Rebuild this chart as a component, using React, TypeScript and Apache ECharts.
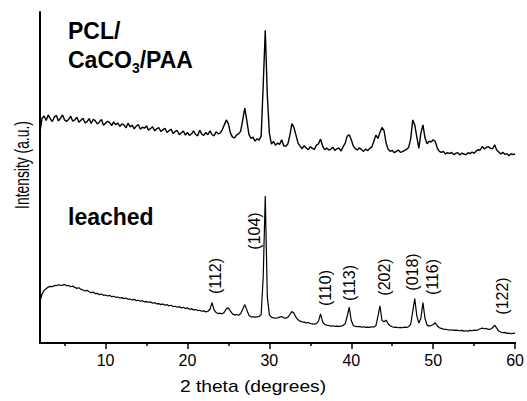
import React, { useEffect, useRef } from "react";
import * as echarts from "echarts";

const X_START = 2;
const X_STEP = 0.25;

// lower trace: "leached" (arbitrary intensity units)
const leached: number[] = [
  12.6, 14.8, 15.9, 16.4, 16.9, 17.1, 17.0, 17.4, 17.3, 17.6, 17.4, 17.5, 17.7, 17.3, 17.4, 17.0, 17.2, 16.8, 16.5, 16.7,
  16.2, 16.0, 15.7, 15.9, 15.5, 15.2, 15.4, 14.9, 15.0, 14.6, 14.8, 14.4, 14.5, 14.2, 14.4, 14.0, 14.1, 13.8, 13.9, 13.6,
  13.7, 13.4, 13.6, 13.2, 13.3, 13.0, 13.2, 12.8, 12.9, 12.6, 12.8, 12.4, 12.5, 12.3, 12.4, 12.0, 12.2, 11.8, 11.9, 11.6,
  11.8, 11.4, 11.6, 11.2, 11.4, 11.0, 11.1, 10.8, 11.0, 10.6, 10.8, 10.4, 10.6, 10.2, 10.3, 10.0, 10.1, 9.8, 9.9, 9.6,
  9.7, 9.4, 9.6, 10.2, 12.2, 10.0, 9.2, 8.9, 9.0, 8.8, 9.3, 10.3, 10.6, 9.6, 8.8, 8.5, 8.6, 8.4, 8.9, 10.2,
  11.6, 10.0, 8.4, 7.9, 7.9, 7.8, 7.9, 8.0, 8.6, 20.0, 44.4, 14.0, 8.5, 7.8, 7.6, 7.5, 7.6, 7.8, 8.0, 7.6,
  7.5, 7.8, 8.6, 9.5, 9.0, 7.8, 7.0, 6.6, 6.4, 6.3, 6.1, 6.2, 5.9, 5.8, 5.7, 5.9, 6.6, 8.8, 6.4, 5.6,
  5.4, 5.3, 5.1, 5.2, 5.0, 5.1, 5.0, 5.1, 5.3, 5.8, 8.0, 10.8, 6.8, 5.3, 5.0, 4.9, 5.0, 4.8, 4.9, 4.7,
  4.8, 4.7, 4.9, 4.8, 5.2, 8.0, 11.2, 6.8, 6.4, 6.9, 5.8, 5.2, 4.9, 4.7, 4.8, 4.6, 4.7, 4.6, 4.8, 4.7,
  4.9, 5.6, 9.5, 13.4, 8.2, 6.0, 7.5, 12.2, 7.4, 5.4, 5.1, 5.3, 5.6, 6.1, 5.2, 4.6, 4.4, 4.2, 4.1, 4.0,
  3.9, 4.0, 3.8, 3.9, 3.8, 3.7, 3.8, 3.6, 3.7, 3.6, 3.8, 3.7, 3.9, 3.8, 4.0, 4.3, 4.5, 4.3, 4.4, 4.1,
  4.2, 4.6, 5.4, 4.5, 3.6, 3.3, 3.1, 3.2, 2.9, 3.0, 2.8, 2.9, 3.0,
];

// upper trace: "PCL/CaCO3/PAA" (offset, arbitrary intensity units)
const composite: number[] = [
  63.8, 67.9, 68.6, 67.2, 68.9, 67.8, 66.9, 68.3, 68.7, 67.1, 67.9, 68.9, 67.4, 66.9, 67.6, 68.5, 67.0, 67.4, 68.2, 66.7,
  67.3, 67.9, 66.5, 66.9, 67.8, 66.3, 67.6, 67.1, 66.2, 66.8, 67.5, 65.8, 66.4, 67.0, 66.6, 65.7, 66.8, 65.9, 66.5, 65.4,
  66.2, 65.9, 65.0, 66.4, 65.3, 65.8, 64.7, 65.5, 66.0, 64.6, 65.2, 64.9, 65.6, 64.3, 64.8, 65.3, 64.1, 64.7, 65.1, 63.9,
  64.4, 64.9, 63.6, 64.1, 64.6, 63.3, 63.9, 64.2, 62.9, 63.5, 64.0, 62.8, 63.6, 62.7, 63.2, 64.1, 63.0, 62.6, 64.3, 63.1,
  62.7, 63.6, 62.9, 64.1, 63.0, 62.6, 63.8, 63.2, 63.4, 64.4, 65.9, 67.4, 66.2, 63.4, 62.2, 62.0, 62.9, 63.2, 64.0, 67.4,
  71.0, 67.2, 63.1, 61.8, 62.2, 61.0, 61.7, 61.3, 62.5, 78.0, 94.5, 75.0, 63.4, 60.1, 60.9, 59.7, 60.4, 60.0, 61.4, 59.6,
  59.4, 60.1, 62.7, 66.3, 65.1, 62.8, 60.4, 59.5, 58.7, 59.6, 58.9, 58.4, 59.3, 58.8, 58.5, 59.8, 60.2, 61.6, 59.5, 58.4,
  58.9, 58.3, 58.6, 59.1, 58.2, 58.7, 58.9, 58.0, 59.3, 60.3, 62.5, 62.9, 61.4, 59.5, 58.7, 58.3, 59.0, 58.4, 57.9, 58.6,
  58.1, 58.8, 59.2, 60.9, 62.8, 61.8, 63.6, 65.1, 64.2, 60.4, 58.5, 57.9, 58.2, 57.5, 57.9, 58.3, 57.6, 57.8, 58.2, 58.5,
  59.1, 61.6, 67.4, 65.9, 62.3, 58.8, 63.4, 65.9, 62.0, 60.2, 61.0, 60.7, 61.4, 60.9, 58.9, 57.9, 57.6, 57.9, 57.1, 57.5,
  57.2, 57.6, 56.9, 57.3, 57.5, 56.8, 57.4, 57.1, 56.9, 57.5, 57.2, 57.7, 57.3, 58.0, 58.4, 58.3, 59.4, 58.6, 59.1, 59.3,
  58.8, 58.7, 59.9, 58.3, 57.7, 57.1, 57.6, 57.0, 57.2, 56.6, 57.2, 56.9, 57.1,
];

const majorTicks = [10, 20, 30, 40, 50, 60];
const minorTicks = [5, 15, 25, 35, 45, 55];

const peakLabels = ["(112)", "(104)", "(110)", "(113)", "(202)", "(018)", "(116)", "(122)"];
// label centres in pixels (layout)
const peakLabelPos: [number, number][] = [
  [215, 276], [254, 231], [325, 288], [349, 283], [384, 277], [412, 272], [432, 277], [502, 296],
];

const FONT = '"Liberation Sans", Arial, Helvetica, sans-serif';

export default function App() {
  const ref = useRef<HTMLDivElement>(null);
  useEffect(() => {
    if (!ref.current) return;
    const chart = echarts.init(ref.current, undefined, { renderer: "svg" });
    const toPairs = (arr: number[]) => arr.map((v, i) => [X_START + i * X_STEP, v]);

    const graphics: any[] = [
      {
        type: "text", x: 68, y: 31,
        style: { text: "PCL/", fontSize: 23, fontWeight: "bold", fontFamily: FONT, fill: "#000", verticalAlign: "middle" },
      },
      {
        type: "text", x: 68, y: 45,
        style: {
          text: "{n|CaCO}{s|3}{n|/PAA}",
          verticalAlign: "top",
          fill: "#000",
          rich: {
            n: { fontSize: 23, fontWeight: "bold", fontFamily: FONT, lineHeight: 30, fill: "#000" },
            s: { fontSize: 14, fontWeight: "bold", fontFamily: FONT, lineHeight: 14, verticalAlign: "bottom", fill: "#000" },
          },
        },
      },
      {
        type: "text", x: 68, y: 217,
        style: { text: "leached", fontSize: 23, fontWeight: "bold", fontFamily: FONT, fill: "#000", verticalAlign: "middle" },
      },
      {
        type: "text", x: 253, y: 387, scaleX: 1.2,
        style: { text: "2 theta (degrees)", fontSize: 16, fontFamily: FONT, fill: "#000", align: "center", verticalAlign: "middle" },
      },
      {
        type: "text", x: 22, y: 165, rotation: Math.PI / 2, scaleX: 0.66,
        style: { text: "Intensity (a.u.)", fontSize: 21, fontFamily: FONT, fill: "#000", align: "center", verticalAlign: "middle" },
      },
      ...peakLabels.map((t, i) => ({
        type: "text", x: peakLabelPos[i][0], y: peakLabelPos[i][1], rotation: Math.PI / 2,
        style: { text: t, fontSize: 16, fontFamily: FONT, fill: "#000", align: "center", verticalAlign: "middle" },
      })),
    ];

    chart.setOption({
      animation: false,
      backgroundColor: "#fff",
      grid: { left: 40, right: 10, top: 12, bottom: 58 },
      xAxis: [
        {
          type: "value", min: 2, max: 60,
          axisLine: { show: true, lineStyle: { color: "#000", width: 2 } },
          axisTick: { show: true, customValues: majorTicks, length: 6, lineStyle: { color: "#000", width: 1.5 } },
          axisLabel: { show: true, customValues: majorTicks, color: "#000", fontSize: 16, fontFamily: FONT, margin: 9 },
          splitLine: { show: false },
        },
        {
          type: "value", min: 2, max: 60, position: "bottom",
          axisLine: { show: false },
          axisTick: { show: true, customValues: minorTicks, length: 3, lineStyle: { color: "#000", width: 1.5 } },
          axisLabel: { show: false },
          splitLine: { show: false },
        },
      ],
      yAxis: {
        type: "value", min: 0, max: 100,
        axisLine: { show: true, lineStyle: { color: "#000", width: 2 } },
        axisTick: { show: false },
        axisLabel: { show: false },
        splitLine: { show: false },
      },
      series: [
        {
          type: "line", name: "PCL/CaCO3/PAA", data: toPairs(composite), showSymbol: false, xAxisIndex: 0,
          lineStyle: { color: "#000", width: 1.4 }, silent: true,
        },
        {
          type: "line", name: "leached", data: toPairs(leached), showSymbol: false, xAxisIndex: 0,
          lineStyle: { color: "#000", width: 1.2 }, silent: true,
        },
      ],
      graphic: graphics,
    });
    return () => chart.dispose();
  }, []);
  return (
    <div
      ref={ref}
      style={{ position: "fixed", left: 0, top: 0, width: 527, height: 401, background: "#fff" }}
    />
  );
}
